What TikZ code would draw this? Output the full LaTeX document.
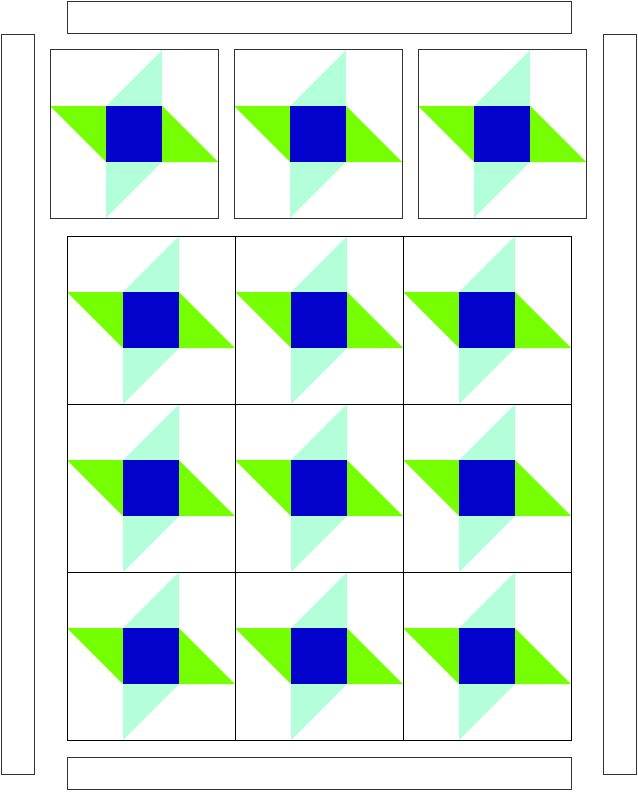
\documentclass[tikz,border=0pt]{standalone}
\definecolor{qgreen}{RGB}{118,255,0}
\definecolor{qblue}{RGB}{2,2,204}
\definecolor{qteal}{RGB}{178,255,218}
\tikzset{
  frame/.style={draw=black!80, line width=1pt},
  cell/.style={draw=black, line width=0.9pt},
  pics/quiltblock/.style={code={
    \fill[qteal] (112,0) -- (56,56) -- (112,56) -- cycle;
    \fill[qteal] (56,112) -- (112,112) -- (56,168) -- cycle;
    \fill[qgreen] (0,56) -- (56,56) -- (56,112) -- cycle;
    \fill[qgreen] (112,56) -- (168,112) -- (112,112) -- cycle;
    \fill[qblue] (56,56) rectangle (112,112);
  }}
}
\begin{document}
\begin{tikzpicture}[x=1pt,y=-1pt]
\useasboundingbox (0,0) rectangle (637,792);
% borders
\draw[frame] (67,2) rectangle (571,34);
\draw[frame] (67,757) rectangle (571,789);
\draw[frame] (1.5,35) rectangle (34.5,774);
\draw[frame] (603,35) rectangle (636,774);
% top row blocks
\foreach \x in {50,234,418} {
  \pic at (\x,50) {quiltblock};
  \draw[frame] (\x,50) rectangle ++(168,168);
}
% grid
\foreach \i in {0,1,2} {
  \foreach \j in {0,1,2} {
    \pic at ({67+168*\i},{236+168*\j}) {quiltblock};
    \draw[cell] ({67+168*\i},{236+168*\j}) rectangle ++(168,168);
  }
}
\end{tikzpicture}
\end{document}
